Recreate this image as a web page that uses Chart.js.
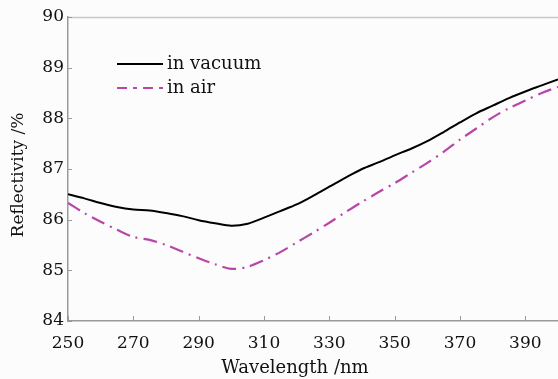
<!DOCTYPE html>
<html>
<head>
<meta charset="utf-8">
<script src="https://cdn.jsdelivr.net/npm/chart.js@4"></script>
<style>
html,body{margin:0;padding:0;background:#fcfcfc;}
#wrap{width:558px;height:379px;position:relative;}
</style>
</head>
<body>
<div id="wrap"><canvas id="c" width="558" height="379"></canvas></div>
<script>
const wavelengths = [250,255,260,265,270,275,280,285,290,295,300,305,310,315,320,325,330,335,340,345,350,355,360,365,370,375,380,385,390,395,400];
const vacuum = [86.50,86.42,86.33,86.25,86.20,86.18,86.13,86.07,85.99,85.93,85.88,85.92,86.04,86.17,86.30,86.47,86.65,86.83,87.00,87.13,87.27,87.40,87.55,87.73,87.92,88.10,88.25,88.40,88.53,88.65,88.77];
const air = [86.33,86.13,85.96,85.80,85.66,85.60,85.50,85.37,85.24,85.12,85.03,85.07,85.20,85.36,85.55,85.74,85.94,86.15,86.35,86.54,86.72,86.92,87.12,87.34,87.58,87.80,88.02,88.20,88.35,88.50,88.62];
const xTicks = [250,270,290,310,330,350,370,390];
const yTicks = [84,85,86,87,88,89,90];
const seriesNames = ["in vacuum","in air"];
const xTitle = "Wavelength /nm";
const yTitle = "Reflectivity /%";

const FONT = "'DejaVu Serif', serif";
const magenta = '#b846a8';
const airDash = [14,6,2,6];

const extras = {
  id:'extras',
  beforeDraw(chart){
    const ctx = chart.ctx;
    ctx.save();
    ctx.fillStyle = '#fcfcfc';
    ctx.fillRect(0,0,chart.width,chart.height);
    ctx.restore();
  },
  afterDatasetsDraw(chart){
    const ctx = chart.ctx, a = chart.chartArea;
    const xs = chart.scales.x, ys = chart.scales.y;
    ctx.save();
    // top frame line
    ctx.strokeStyle = '#c8c8c8'; ctx.lineWidth = 1.5;
    ctx.beginPath(); ctx.moveTo(a.left, a.top+0.5); ctx.lineTo(a.right, a.top+0.5); ctx.stroke();
    // inward ticks
    ctx.strokeStyle = '#9a9a9a'; ctx.lineWidth = 1;
    xTicks.forEach(v=>{ const px = Math.round(xs.getPixelForValue(v))+0.5;
      ctx.beginPath(); ctx.moveTo(px, a.bottom); ctx.lineTo(px, a.bottom-5); ctx.stroke(); });
    yTicks.forEach(v=>{ const py = Math.round(ys.getPixelForValue(v))+0.5;
      ctx.beginPath(); ctx.moveTo(a.left, py); ctx.lineTo(a.left+4, py); ctx.stroke(); });
    // legend
    const lx0 = 117, lx1 = 163, ly = [64, 88];
    ctx.lineWidth = 2;
    ctx.strokeStyle = '#000'; ctx.setLineDash([]);
    ctx.beginPath(); ctx.moveTo(lx0, ly[0]); ctx.lineTo(lx1, ly[0]); ctx.stroke();
    ctx.strokeStyle = magenta; ctx.setLineDash([10,6,4,6]);
    ctx.beginPath(); ctx.moveTo(lx0, ly[1]); ctx.lineTo(lx1, ly[1]); ctx.stroke();
    ctx.setLineDash([]);
    ctx.fillStyle = '#111'; ctx.font = "18px " + FONT; ctx.textBaseline = 'middle'; ctx.textAlign='left';
    ctx.fillText(seriesNames[0], lx1+4, ly[0]);
    ctx.fillText(seriesNames[1], lx1+4, ly[1]);
    // axis titles
    ctx.textAlign = 'center';
    ctx.font = "18px " + FONT;
    ctx.fillText(xTitle, 295, 368);
    ctx.font = "17px " + FONT;
    ctx.translate(19, 175); ctx.rotate(-Math.PI/2);
    ctx.fillText(yTitle, 0, 0);
    ctx.restore();
  }
};

new Chart(document.getElementById('c'), {
  type:'line',
  data:{
    labels: wavelengths,
    datasets:[
      {label:seriesNames[0], data: wavelengths.map((x,i)=>({x, y:vacuum[i]})), borderColor:'#000', borderWidth:2, pointRadius:0, tension:0.3, fill:false},
      {label:seriesNames[1], data: wavelengths.map((x,i)=>({x, y:air[i]})), borderColor:magenta, borderWidth:2.2, borderDash:airDash, pointRadius:0, tension:0.3, fill:false}
    ]
  },
  options:{
    responsive:false, animation:false,
    layout:{padding:{top:17,right:0,left:0,bottom:0}},
    plugins:{legend:{display:false}, tooltip:{enabled:false}},
    scales:{
      x:{type:'linear', min:250, max:400,
        afterBuildTicks(s){ s.ticks = xTicks.map(v=>({value:v})); },
        afterFit(s){ s.height = 58; },
        grid:{display:false, drawTicks:false},
        border:{display:true, color:'#9a9a9a', width:1.5},
        ticks:{color:'#111', font:{family:FONT, size:17}, padding:12, maxRotation:0, autoSkip:false}
      },
      y:{type:'linear', min:84, max:90,
        afterBuildTicks(s){ s.ticks = yTicks.map(v=>({value:v})); },
        afterFit(s){ s.width = 68; },
        grid:{display:false, drawTicks:false},
        border:{display:true, color:'#9a9a9a', width:1.5},
        ticks:{color:'#111', font:{family:FONT, size:17}, padding:4}
      }
    }
  },
  plugins:[extras]
});
</script>
</body>
</html>
